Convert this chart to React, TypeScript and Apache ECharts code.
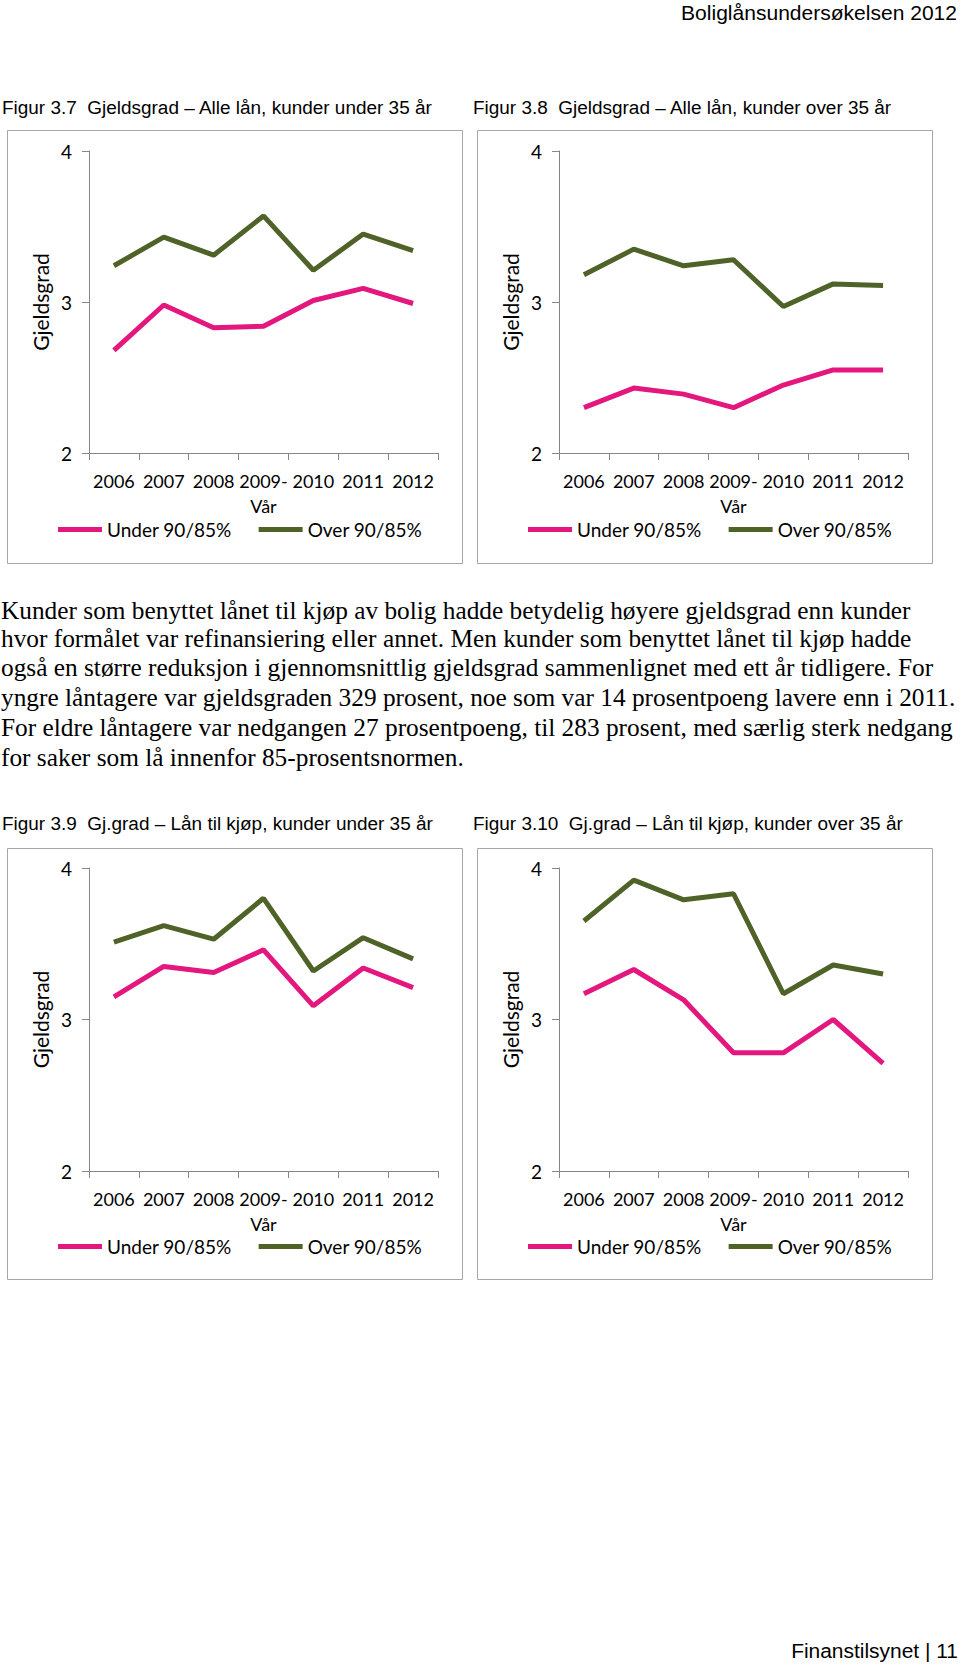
import React, { useEffect, useRef } from "react";
import * as echarts from "echarts";

// ---------- data ----------
const categories = ["2006", "2007", "2008", "2009-\nVår", "2010", "2011", "2012"];
const seriesNames = ["Under 90/85%", "Over 90/85%"];

const fig37Under = [2.68, 2.98, 2.83, 2.84, 3.01, 3.09, 2.99];
const fig37Over = [3.24, 3.43, 3.31, 3.57, 3.21, 3.45, 3.34];
const fig38Under = [2.30, 2.43, 2.39, 2.30, 2.45, 2.55, 2.55];
const fig38Over = [3.18, 3.35, 3.24, 3.28, 2.97, 3.12, 3.11];
const fig39Under = [3.15, 3.35, 3.31, 3.46, 3.09, 3.34, 3.21];
const fig39Over = [3.51, 3.62, 3.53, 3.80, 3.32, 3.54, 3.40];
const fig310Under = [3.17, 3.33, 3.13, 2.78, 2.78, 3.00, 2.71];
const fig310Over = [3.65, 3.92, 3.79, 3.83, 3.17, 3.36, 3.30];

const yTicks = { min: 2, max: 4, interval: 1 };
const yAxisName = "Gjeldsgrad";

const headerText = "Boliglånsundersøkelsen 2012";
const footerText = "Finanstilsynet | 11";
const figureTitles = [
  "Figur 3.7  Gjeldsgrad – Alle lån, kunder under 35 år",
  "Figur 3.8  Gjeldsgrad – Alle lån, kunder over 35 år",
  "Figur 3.9  Gj.grad – Lån til kjøp, kunder under 35 år",
  "Figur 3.10  Gj.grad – Lån til kjøp, kunder over 35 år",
];
const paragraphLines = [
  "Kunder som benyttet lånet til kjøp av bolig hadde betydelig høyere gjeldsgrad enn kunder",
  "hvor formålet var refinansiering eller annet. Men kunder som benyttet lånet til kjøp hadde",
  "også en større reduksjon i gjennomsnittlig gjeldsgrad sammenlignet med ett år tidligere. For",
  "yngre låntagere var gjeldsgraden 329 prosent, noe som var 14 prosentpoeng lavere enn i 2011.",
  "For eldre låntagere var nedgangen 27 prosentpoeng, til 283 prosent, med særlig sterk nedgang",
  "for saker som lå innenfor 85-prosentsnormen.",
];

const panels = [
  { under: fig37Under, over: fig37Over },
  { under: fig38Under, over: fig38Over },
  { under: fig39Under, over: fig39Over },
  { under: fig310Under, over: fig310Over },
];

// ---------- styling / layout ----------
const PINK = "#E3177D";
const GREEN = "#4F6228";
const AXIS = "#868686";
const BOX = "#a6a6a6";
const CHART_FONT = "Lato";
const SANS = "Liberation Sans";
const SERIF = "Liberation Serif";

const panelLayout = [
  { box: [7, 130, 455, 433], grid: [89, 151, 349, 302], legend: [58, 520], title: [2, 107] },
  { box: [477, 130, 455, 433], grid: [559, 151, 349, 302], legend: [528, 520], title: [473, 107] },
  { box: [7, 848, 455, 431], grid: [89, 868, 349, 303], legend: [58, 1237], title: [2, 823] },
  { box: [477, 848, 455, 431], grid: [559, 868, 349, 303], legend: [528, 1237], title: [473, 823] },
];

function measure(text: string, font: string): number {
  const c = document.createElement("canvas");
  const ctx = c.getContext("2d");
  if (!ctx) return text.length * 10;
  ctx.font = font;
  return ctx.measureText(text).width;
}

export default function App() {
  const ref = useRef<HTMLDivElement>(null);

  useEffect(() => {
    if (!ref.current) return;
    const chart = echarts.init(ref.current, undefined, { renderer: "svg" });

    const titleSize = 19;
    const titleScale = 431 / measure(figureTitles[0], `${titleSize}px "${SANS}"`);
    const paraSize = 26;
    const paraScale = 955 / measure(paragraphLines[3], `${paraSize}px "${SERIF}"`);
    const headerSize = 20;
    const headerScale = 276 / measure(headerText, `${headerSize}px "${SANS}"`);
    const footerSize = 20;
    const footerScale = 167 / measure(footerText, `${footerSize}px "${SANS}"`);

    const graphic: any[] = [];
    graphic.push({
      type: "text",
      x: 957,
      y: 13,
      scaleX: headerScale,
      style: { text: headerText, fontSize: headerSize, fontFamily: SANS, fill: "#000", align: "right", verticalAlign: "middle" },
    });
    graphic.push({
      type: "text",
      x: 958,
      y: 1651,
      scaleX: footerScale,
      style: { text: footerText, fontSize: footerSize, fontFamily: SANS, fill: "#000", align: "right", verticalAlign: "middle" },
    });
    panelLayout.forEach((p, i) => {
      graphic.push({
        type: "rect",
        shape: { x: p.box[0] + 0.5, y: p.box[1] + 0.5, width: p.box[2], height: p.box[3] },
        style: { fill: "none", stroke: BOX, lineWidth: 1 },
        z: -1,
      });
      graphic.push({
        type: "text",
        x: p.title[0],
        y: p.title[1],
        scaleX: titleScale,
        style: { text: figureTitles[i], fontSize: titleSize, fontFamily: SANS, fill: "#000", align: "left", verticalAlign: "middle" },
      });
    });
    const paraY = [610, 638, 667, 697, 727, 757];
    paragraphLines.forEach((line, i) => {
      graphic.push({
        type: "text",
        x: 1,
        y: paraY[i],
        scaleX: paraScale,
        style: { text: line, fontSize: paraSize, fontFamily: SERIF, fill: "#000", align: "left", verticalAlign: "middle" },
      });
    });

    const grid = panelLayout.map((p) => ({
      left: p.grid[0],
      top: p.grid[1],
      width: p.grid[2],
      height: p.grid[3],
      containLabel: false,
    }));

    const xAxis = panelLayout.map((_, i) => ({
      type: "category",
      gridIndex: i,
      data: categories,
      boundaryGap: true,
      axisLine: { lineStyle: { color: AXIS, width: 1 } },
      axisTick: { show: true, length: 7, alignWithLabel: false, interval: 0, lineStyle: { color: AXIS } },
      axisLabel: { interval: 0, fontSize: 18, fontFamily: CHART_FONT, color: "#000", lineHeight: 25, margin: 15 },
      splitLine: { show: false },
    }));

    const yAxis = panelLayout.map((_, i) => ({
      type: "value",
      gridIndex: i,
      min: yTicks.min,
      max: yTicks.max,
      interval: yTicks.interval,
      name: yAxisName,
      nameLocation: "middle",
      nameGap: 38,
      nameTextStyle: { fontSize: 21, fontFamily: CHART_FONT, color: "#000" },
      axisLine: { show: true, lineStyle: { color: AXIS, width: 1 } },
      axisTick: { show: true, length: 7, lineStyle: { color: AXIS } },
      axisLabel: { fontSize: 19, fontFamily: CHART_FONT, color: "#000", margin: 17 },
      splitLine: { show: false },
    }));

    const series: any[] = [];
    panels.forEach((p, i) => {
      series.push({
        name: seriesNames[0],
        type: "line",
        xAxisIndex: i,
        yAxisIndex: i,
        data: p.under,
        showSymbol: false,
        symbol: "none",
        lineStyle: { width: 5, color: PINK },
        itemStyle: { color: PINK },
      });
      series.push({
        name: seriesNames[1],
        type: "line",
        xAxisIndex: i,
        yAxisIndex: i,
        data: p.over,
        showSymbol: false,
        symbol: "none",
        lineStyle: { width: 5, color: GREEN },
        itemStyle: { color: GREEN },
      });
    });

    const legend = panelLayout.map((p) => ({
      left: p.legend[0],
      top: p.legend[1],
      padding: 0,
      itemWidth: 44,
      itemHeight: 5,
      itemGap: 27,
      icon: "rect",
      data: seriesNames,
      textStyle: { fontSize: 19, fontFamily: CHART_FONT, color: "#000" },
      selectedMode: false,
    }));

    chart.setOption({
      animation: false,
      backgroundColor: "#fff",
      grid,
      xAxis,
      yAxis,
      series,
      legend,
      graphic,
    });

    return () => chart.dispose();
  }, []);

  return (
    <div
      ref={ref}
      style={{ position: "absolute", left: 0, top: 0, width: 960, height: 1664, background: "#fff" }}
    />
  );
}
